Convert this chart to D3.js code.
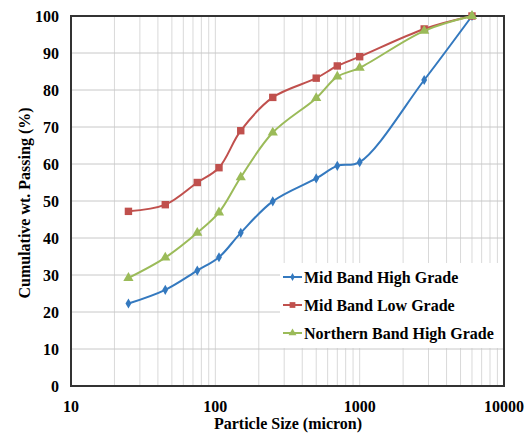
<!DOCTYPE html>
<html>
<head>
<meta charset="utf-8">
<script src="https://cdn.jsdelivr.net/npm/d3@7"></script>
<style>
  body { margin: 0; background: #fff; }
  text { font-family: "Liberation Serif", "Times New Roman", serif; font-weight: bold; fill: #000; }
</style>
</head>
<body>
<div id="chart"></div>
<script>
const sizes = [25, 45, 75, 106, 150, 250, 500, 700, 1000, 2800, 6000];
const midHigh = [22.3, 26, 31.2, 34.8, 41.4, 49.9, 56.1, 59.5, 60.5, 82.7, 100];
const midLow = [47.2, 49, 55, 59, 69, 78, 83.2, 86.5, 89, 96.5, 100];
const northHigh = [29.2, 34.7, 41.4, 46.9, 56.4, 68.5, 77.8, 83.6, 86, 96, 100];
const seriesNames = ["Mid Band High Grade", "Mid Band Low Grade", "Northern Band High Grade"];
const xTicks = [10, 100, 1000, 10000];
const yTicks = [0, 10, 20, 30, 40, 50, 60, 70, 80, 90, 100];

const width = 528, height = 433;
const margin = { left: 71, right: 24, top: 16, bottom: 47 };

const svg = d3.select("#chart").append("svg")
    .attr("width", width)
    .attr("height", height);

const x = d3.scaleLog().domain([10, 10000]).range([margin.left, width - margin.right]);
const y = d3.scaleLinear().domain([0, 100]).range([height - margin.bottom, margin.top]);

// vertical grid on every log tick
const minor = [];
for (let d = 10; d < 10000; d *= 10) {
    for (let k = 1; k <= 9; k++) minor.push(d * k);
}
svg.append("g").selectAll("line")
    .data(minor.filter(v => v > 10))
    .enter().append("line")
    .attr("x1", d => x(d)).attr("x2", d => x(d))
    .attr("y1", y(0)).attr("y2", y(100))
    .attr("stroke", "#d9d9d9").attr("stroke-width", 1);

svg.append("g").selectAll("line")
    .data(yTicks.slice(1))
    .enter().append("line")
    .attr("x1", x(10)).attr("x2", x(10000))
    .attr("y1", d => y(d)).attr("y2", d => y(d))
    .attr("stroke", "#c8c8c8").attr("stroke-width", 1);

// frame
svg.append("rect")
    .attr("x", x(10)).attr("y", y(100))
    .attr("width", x(10000) - x(10)).attr("height", y(0) - y(100))
    .attr("fill", "none").attr("stroke", "#333").attr("stroke-width", 2);

// tick labels
svg.append("g").selectAll("text")
    .data(yTicks)
    .enter().append("text")
    .attr("x", x(10) - 12).attr("y", d => y(d) + 5.5)
    .attr("text-anchor", "end")
    .style("font-size", "16px")
    .text(d => d);

svg.append("g").selectAll("text")
    .data(xTicks)
    .enter().append("text")
    .attr("x", d => x(d)).attr("y", y(0) + 26)
    .attr("text-anchor", "middle")
    .style("font-size", "16px")
    .text(d => d);

svg.append("text")
    .attr("x", 288).attr("y", 429)
    .attr("text-anchor", "middle")
    .style("font-size", "16px")
    .text("Particle Size (micron)");

svg.append("text")
    .attr("transform", `translate(30,${(y(0) + y(100)) / 2 + 2}) rotate(-90)`)
    .attr("text-anchor", "middle")
    .style("font-size", "16px")
    .text("Cumulative wt. Passing (%)");

const series = [
    { name: seriesNames[0], values: midHigh, color: "#3479bf", symbol: d3.symbolDiamond, size: 30 },
    { name: seriesNames[1], values: midLow, color: "#c0504d", symbol: d3.symbolSquare, size: 55 },
    { name: seriesNames[2], values: northHigh, color: "#9bbb59", symbol: d3.symbolTriangle, size: 45 }
];

const line = d3.line()
    .x(d => x(d[0]))
    .y(d => y(d[1]))
    .curve(d3.curveCatmullRom.alpha(0.5));

series.forEach(s => {
    const pts = sizes.map((v, i) => [v, s.values[i]]);
    svg.append("path")
        .datum(pts)
        .attr("d", line)
        .attr("fill", "none")
        .attr("stroke", s.color)
        .attr("stroke-width", 2);
    svg.append("g").selectAll("path")
        .data(pts)
        .enter().append("path")
        .attr("transform", d => `translate(${x(d[0])},${y(d[1])})`)
        .attr("d", d3.symbol().type(s.symbol).size(s.size))
        .attr("fill", s.color);
});

// legend
const legend = svg.append("g");
legend.append("rect")
    .attr("x", 280).attr("y", 263)
    .attr("width", x(10000) - 281).attr("height", 85)
    .attr("fill", "#fff");

series.forEach((s, i) => {
    const ly = 277 + i * 28;
    legend.append("line")
        .attr("x1", 283).attr("x2", 302)
        .attr("y1", ly).attr("y2", ly)
        .attr("stroke", s.color).attr("stroke-width", 2);
    legend.append("path")
        .attr("transform", `translate(292.5,${ly})`)
        .attr("d", d3.symbol().type(s.symbol).size(s.size * 0.6))
        .attr("fill", s.color);
    legend.append("text")
        .attr("x", 304).attr("y", ly + 5.5)
        .style("font-size", "16px")
        .text(s.name);
});
</script>
</body>
</html>
